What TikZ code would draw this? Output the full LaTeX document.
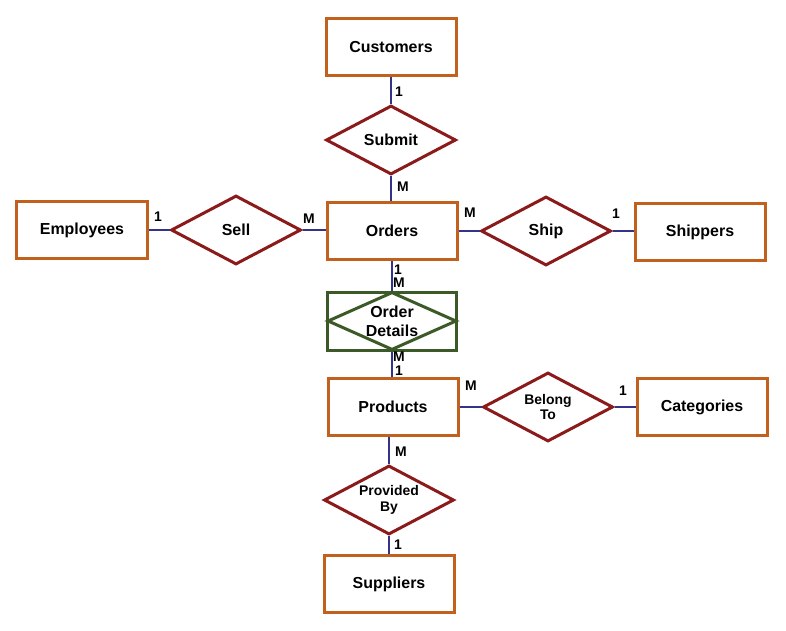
\documentclass[tikz,border=0pt]{standalone}
\usepackage{fontspec}
\setmainfont{Liberation Sans}
\usetikzlibrary{shapes.geometric}
\definecolor{ent}{HTML}{C2601E}
\definecolor{rel}{HTML}{8B1A1A}
\definecolor{grn}{HTML}{3B5A27}
\definecolor{con}{HTML}{33338A}
\begin{document}
\begin{tikzpicture}[x=1bp,y=-1bp,
 entity/.style={draw=ent, line width=3bp, minimum width=130bp, minimum height=57bp, inner sep=0pt, font=\fontsize{16}{18}\selectfont\bfseries},
 relation/.style={diamond, draw=rel, line width=3bp, minimum width=130bp, minimum height=69bp, inner sep=0pt},
 rlab/.style={font=\fontsize{16}{19}\selectfont\bfseries, align=center},
 slab/.style={font=\fontsize{14}{16}\selectfont\bfseries, align=center},
 card/.style={font=\fontsize{14}{16}\selectfont\bfseries, inner sep=0pt},
 conn/.style={draw=con, line width=2bp}]
\useasboundingbox (0,0) rectangle (786,631);
% entities
\node[entity] (cust) at (391,47) {Customers};
\node[entity] (orders) at (392,231) {Orders};
\node[entity] (emp) at (82,230) {Employees};
\node[entity] (shipp) at (700,232) {Shippers};
\node[entity] (prod) at (393,407) {Products};
\node[entity] (cat) at (702,407) {Categories};
\node[entity] (supp) at (389,584) {Suppliers};
% relations
\node[relation, label={[rlab]center:Submit}] (submit) at (391,140) {};
\node[relation, label={[rlab]center:Sell}] (sell) at (236,230) {};
\node[relation, label={[rlab]center:Ship}] (ship) at (546,231) {};
\node[relation, label={[slab]center:Belong\\To}] (belong) at (548,407) {};
\node[relation, label={[slab]center:Provided\\By}] (prov) at (389,500) {};
% associative entity
\node[draw=grn, line width=3bp, minimum width=129bp, minimum height=58bp, inner sep=0pt] (od) at (392,321) {};
\node[diamond, draw=grn, line width=3bp, minimum width=129bp, minimum height=58bp, inner sep=0pt, label={[rlab]center:Order\\Details}] (odd) at (392,321) {};
% connectors
\draw[conn] (cust.south) -- (submit.north);
\draw[conn] (submit.south) -- (submit.south |- orders.north);
\draw[conn] (emp.east) -- (sell.west);
\draw[conn] (sell.east) -- (sell.east -| orders.west);
\draw[conn] (orders.east) -- (ship.west);
\draw[conn] (ship.east) -- (ship.east -| shipp.west);
\draw[conn] (orders.south) -- (od.north);
\draw[conn] (od.south) -- (od.south |- prod.north);
\draw[conn] (prod.east) -- (belong.west);
\draw[conn] (belong.east) -- (cat.west);
\draw[conn] (prov.north |- prod.south) -- (prov.north);
\draw[conn] (prov.south) -- (supp.north);
% cardinalities
\node[card] (c1) at (399,92) {1};
\node[card] (c2) at (403,187) {M};
\node[card] (c3) at (158,217) {1};
\node[card] (c4) at (309,219) {M};
\node[card] (c5) at (470,213) {M};
\node[card] (c6) at (616,214) {1};
\node[card] (c7) at (398,270) {1};
\node[card] (c8) at (399,283) {M};
\node[card] (c9) at (399,357) {M};
\node[card] (c10) at (399,371) {1};
\node[card] (c11) at (471,386) {M};
\node[card] (c12) at (623,391) {1};
\node[card] (c13) at (401,452) {M};
\node[card] (c14) at (398,545) {1};
\end{tikzpicture}
\end{document}
